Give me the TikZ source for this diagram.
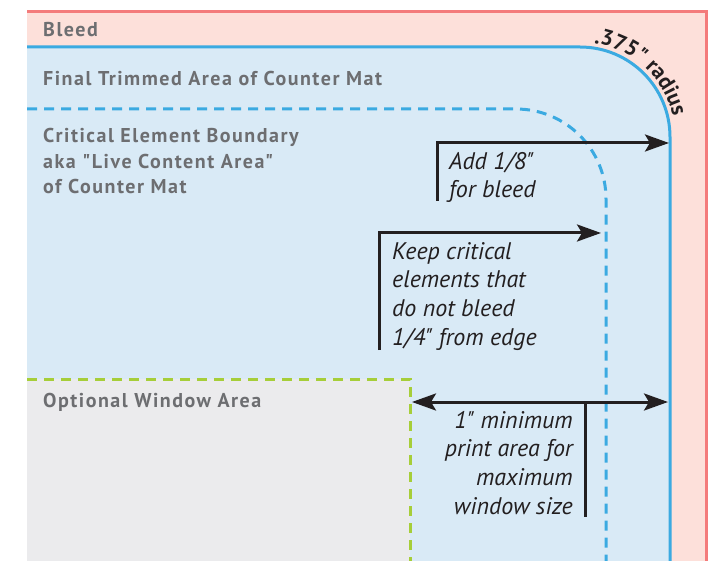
\documentclass[tikz,border=0pt]{standalone}
\usepackage{fontspec}
\setmainfont{PT Sans}[Ligatures=TeXOff]
\newfontfamily\areafont{PT Sans}[Ligatures=TeXOff, LetterSpace=7.5]
\usetikzlibrary{arrows.meta,decorations.text}
\definecolor{bleedfill}{HTML}{FDE0DA}
\definecolor{bleedline}{HTML}{F47B7B}
\definecolor{trimfill}{HTML}{D9EAF6}
\definecolor{trimline}{HTML}{3BAAE1}
\definecolor{winfill}{HTML}{EBEBED}
\definecolor{winline}{HTML}{A6CE39}
\definecolor{labelgray}{HTML}{6D6E71}
\definecolor{ink}{HTML}{231F20}
\begin{document}
\begin{tikzpicture}[x=1pt,y=-1pt,
  areatext/.style={font=\areafont\fontsize{20}{25.5}\selectfont\bfseries, text=labelgray, anchor=base west, inner sep=0pt, align=left},
  note/.style={font=\fontsize{24}{28.6}\selectfont\itshape, text=ink, inner sep=0pt},
  dim/.style={draw=ink, line width=3pt},
  tip/.style={-{Stealth[length=24pt,width=17pt,inset=5pt]}},
  bothtips/.style={{Stealth[length=24pt,width=17pt,inset=5pt]}-{Stealth[length=24pt,width=17pt,inset=5pt]}},
  edgeline/.style={line width=3pt},
  dashline/.style={line width=3pt, dash pattern=on 10pt off 7pt}
]
\useasboundingbox (0,0) rectangle (725,561);
% bleed
\fill[bleedfill] (27,12) rectangle (706,561);
\draw[bleedline, edgeline] (27,12) -- (706,12) -- (706,561);
% final trimmed area
\fill[trimfill] (27,47) -- (580,47) arc[start angle=270, end angle=360, radius=90] -- (670,561) -- (27,561) -- cycle;
\draw[trimline, edgeline] (27,47) -- (580,47) arc[start angle=270, end angle=360, radius=90] -- (670,561);
% optional window
\fill[winfill] (27,379) rectangle (410,561);
\draw[winline, dashline] (27,379) -- (410,379) -- (410,561);
% critical element boundary
\draw[trimline, dashline] (27,109) -- (516,109) arc[start angle=270, end angle=360, radius=90] -- (606,561);
% radius label
\path[decorate, decoration={text along path, text align=center,
  text={|\fontsize{22}{22}\selectfont\bfseries\color{ink}|.375" radius}}]
  (576.7,42.1) arc[start angle=268, end angle=358, radius=95];
% area labels
\node[areatext] (bleed) at (43,37) {Bleed};
\node[areatext] (trim) at (43,86) {Final Trimmed Area of Counter Mat};
\node[areatext] (crit) at (43,194) {Critical Element Boundary\\aka "Live Content Area"\\of Counter Mat};
\node[areatext] (win) at (43,407) {Optional Window Area};
% notes
\node[note, anchor=base west, align=left] (n1) at (449,198) {Add 1/8"\\for bleed};
\node[note, anchor=base west, align=left] (n2) at (392,345) {Keep critical\\elements that\\do not bleed\\1/4" from edge};
\node[note, anchor=base east, align=right] (n3) at (573,514) {1" minimum\\print area for\\maximum\\window size};
% dimension arrows
\coordinate (a1s) at (437,201);
\coordinate (a1c) at (437,143);
\coordinate (a1e) at (669,143);
\coordinate (a2s) at (379,350);
\coordinate (a2c) at (379,233);
\coordinate (a2e) at (601,233);
\coordinate (a3l) at (412,402);
\coordinate (a3r) at (668,402);
\coordinate (a3t) at (585,402);
\coordinate (a3b) at (585,517);
\draw[dim, tip] (a1s) -- (a1c) -- (a1e);
\draw[dim, tip] (a2s) -- (a2c) -- (a2e);
\draw[dim, bothtips] (a3l) -- (a3r);
\draw[dim] (a3t) -- (a3b);
\end{tikzpicture}
\end{document}
